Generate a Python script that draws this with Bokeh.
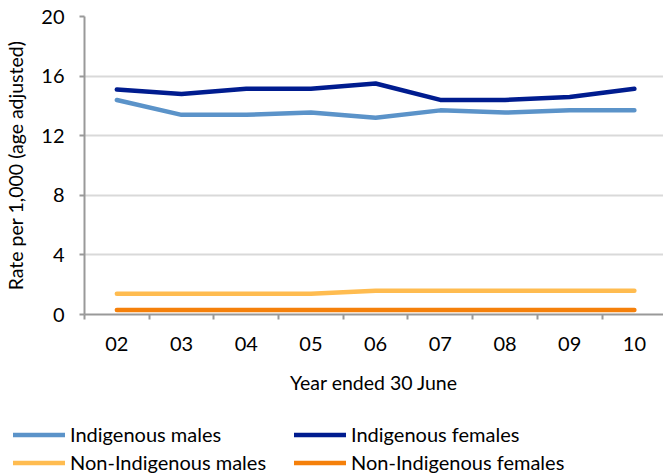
from bokeh.plotting import figure
from bokeh.models import Range1d, FixedTicker, Legend, LegendItem
from bokeh.layouts import column
from bokeh.embed import file_html
from bokeh.resources import INLINE

years = ["02", "03", "04", "05", "06", "07", "08", "09", "10"]
indig_males = [14.4, 13.4, 13.4, 13.55, 13.2, 13.7, 13.55, 13.7, 13.7]
indig_females = [15.1, 14.8, 15.15, 15.15, 15.5, 14.4, 14.4, 14.6, 15.15]
nonindig_males = [1.4, 1.4, 1.4, 1.4, 1.6, 1.6, 1.6, 1.6, 1.6]
nonindig_females = [0.3, 0.3, 0.3, 0.3, 0.3, 0.3, 0.3, 0.3, 0.3]
y_ticks = [0, 4, 8, 12, 16, 20]

series_names = ["Indigenous males", "Indigenous females",
                "Non-Indigenous males", "Non-Indigenous females"]
series_values = [indig_males, indig_females, nonindig_males, nonindig_females]
series_colors = ["#5B93C9", "#001C8F", "#FFBC50", "#F5800A"]
legend_order = [0, 2, 1, 3]  # column-wise fill: left column then right column

FONT = "Lato"
x = [i + 0.5 for i in range(len(years))]

p = figure(width=663, height=400, output_backend="svg", toolbar_location=None,
           x_range=Range1d(0, 8.95), y_range=Range1d(0, 20),
           min_border_left=84, min_border_right=0, min_border_top=16,
           min_border_bottom=86)
p.frame_align = False
p.outline_line_color = None
p.background_fill_color = "white"
p.border_fill_color = "white"

for name, vals, col in zip(series_names, series_values, series_colors):
    p.line(x, vals, line_color=col, line_width=4.5, line_cap="round",
           line_join="round")

# axes
xa = p.xaxis[0]
xa.ticker = FixedTicker(ticks=x, minor_ticks=list(range(len(years) + 1)))
xa.major_label_overrides = {xi: y for xi, y in zip(x, years)}
xa.major_tick_out = 0
xa.major_tick_in = 0
xa.minor_tick_out = 5
xa.minor_tick_in = 0
xa.minor_tick_line_color = "#999999"
xa.minor_tick_line_width = 2
xa.axis_line_color = "#999999"
xa.axis_line_width = 2
xa.major_label_standoff = 17
xa.major_label_text_font = FONT
xa.major_label_text_font_size = "20px"
xa.major_label_text_color = "#000000"
xa.axis_label = "Year ended 30 June"
xa.axis_label_standoff = 17
xa.axis_label_text_font = FONT
xa.axis_label_text_font_size = "19.5px"
xa.axis_label_text_font_style = "normal"
xa.axis_label_text_color = "#000000"

ya = p.yaxis[0]
ya.ticker = FixedTicker(ticks=y_ticks)
ya.major_tick_out = 5
ya.major_tick_in = 0
ya.minor_tick_out = 0
ya.minor_tick_in = 0
ya.major_tick_line_color = "#999999"
ya.major_tick_line_width = 2
ya.axis_line_color = "#999999"
ya.axis_line_width = 2
ya.major_label_standoff = 15
ya.major_label_text_font = FONT
ya.major_label_text_font_size = "20px"
ya.major_label_text_color = "#000000"
ya.axis_label = "Rate per 1,000 (age adjusted)"
ya.axis_label_standoff = 11
ya.axis_label_text_font = FONT
ya.axis_label_text_font_size = "19.5px"
ya.axis_label_text_font_style = "normal"
ya.axis_label_text_color = "#000000"

p.xgrid.grid_line_color = None
p.ygrid.ticker = FixedTicker(ticks=y_ticks)
p.ygrid.grid_line_color = "#D9D9D9"
p.ygrid.grid_line_width = 2

# legend panel (same series drawn out of view, only the legend shows)
lg = figure(width=663, height=75, output_backend="svg", toolbar_location=None,
            x_axis_type=None, y_axis_type=None,
            x_range=Range1d(0, 8.95), y_range=Range1d(100, 101),
            min_border_left=0, min_border_right=0, min_border_top=0,
            min_border_bottom=0)
lg.frame_align = False
lg.outline_line_color = None
lg.grid.visible = False
rends = []
for vals, col in zip(series_values, series_colors):
    rends.append(lg.line(x, vals, line_color=col, line_width=4.5,
                         line_cap="round"))
items = [LegendItem(label=series_names[i], renderers=[rends[i]])
         for i in legend_order]

legend = Legend(items=items, ncols=2, location=(13, 1), padding=0, margin=0,
                spacing=4, glyph_width=52, glyph_height=19, label_height=19,
                label_width=220, label_standoff=5,
                label_text_font=FONT, label_text_font_size="20px",
                label_text_color="#000000",
                border_line_color=None, background_fill_alpha=0)
lg.add_layout(legend, "center")

layout = column(p, lg, spacing=0)
open("out.html", "w").write(file_html(layout, INLINE))
